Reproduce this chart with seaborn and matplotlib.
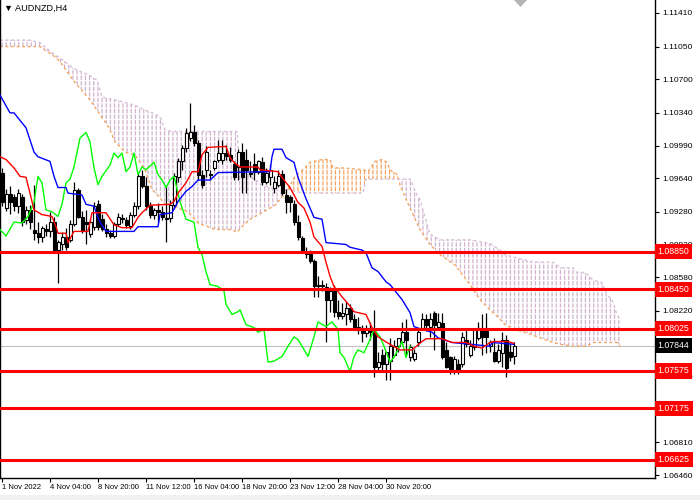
import numpy as np
import matplotlib
matplotlib.use("Agg")
import matplotlib.pyplot as plt
from matplotlib.transforms import blended_transform_factory
from matplotlib.patches import Rectangle, Polygon
import seaborn as sns

# AUDNZD H4 candles, one value per bar
bar_open = [
    1.0970, 1.0932, 1.0947, 1.0944, 1.0934, 1.0944, 1.0919, 1.0930, 1.0908, 1.0905,
    1.0901, 1.0910, 1.0907, 1.0917, 1.0887, 1.0894, 1.0901, 1.0898, 1.0915, 1.0951,
    1.0922, 1.0917, 1.0904, 1.0912, 1.0936, 1.0920, 1.0910, 1.0905, 1.0902, 1.0915,
    1.0921, 1.0919, 1.0913, 1.0925, 1.0934, 1.0966, 1.0956, 1.0934, 1.0925, 1.0930,
    1.0928, 1.0921, 1.0921, 1.0935, 1.0965, 1.0982, 1.0996, 1.1007, 1.1013, 1.1002,
    1.0967, 1.0973, 1.0969, 1.0975, 1.0984, 1.0984, 1.0991, 1.0989, 1.0979, 1.0976,
    1.0992, 1.0984, 1.0970, 1.0979, 1.0971, 1.0981, 1.0960, 1.0965, 1.0954, 1.0957,
    1.0968, 1.0946, 1.0944, 1.0936, 1.0917, 1.0900, 1.0885, 1.0883, 1.0875, 1.0848,
    1.0850, 1.0847, 1.0834, 1.0843, 1.0821, 1.0816, 1.0818, 1.0825, 1.0813, 1.0805,
    1.0804, 1.0798, 1.0804, 1.0799, 1.0762, 1.0775, 1.0765, 1.0768, 1.0775, 1.0784,
    1.0788, 1.0799, 1.0772, 1.0770, 1.0788, 1.0804, 1.0813, 1.0805, 1.0820, 1.0805,
    1.0809, 1.0780, 1.0772, 1.0759, 1.0765, 1.0765, 1.0791, 1.0775, 1.0783, 1.0793,
    1.0802, 1.0804, 1.0784, 1.0778, 1.0768, 1.0777, 1.0791, 1.0778, 1.0773,
]
bar_high = [
    1.0975, 1.0952, 1.0956, 1.0947, 1.0952, 1.0947, 1.0934, 1.0935, 1.0957, 1.0917,
    1.0913, 1.0915, 1.0928, 1.0922, 1.0898, 1.0906, 1.0911, 1.0919, 1.0960, 1.0953,
    1.0929, 1.0930, 1.0920, 1.0939, 1.0941, 1.0926, 1.0915, 1.0909, 1.0917, 1.0927,
    1.0926, 1.0922, 1.0928, 1.0939, 1.0970, 1.0973, 1.0965, 1.0939, 1.0932, 1.0937,
    1.0934, 1.0957, 1.0941, 1.0970, 1.0986, 1.1000, 1.1018, 1.1045, 1.1021, 1.1005,
    1.0973, 1.0998, 1.0973, 1.0984, 1.1005, 1.1005, 1.1000, 1.0997, 1.0982, 1.0995,
    1.1002, 1.0995, 1.0982, 1.0991, 1.0984, 1.0987, 1.0975, 1.0979, 1.0966, 1.0973,
    1.0973, 1.0952, 1.0946, 1.0941, 1.0925, 1.0902, 1.0890, 1.0887, 1.0877, 1.0859,
    1.0855, 1.0852, 1.0847, 1.0850, 1.0834, 1.0830, 1.0832, 1.0829, 1.0818, 1.0815,
    1.0807, 1.0807, 1.0810, 1.0823, 1.0778, 1.0781, 1.0778, 1.0793, 1.0791, 1.0793,
    1.0810, 1.0813, 1.0786, 1.0781, 1.0804, 1.0820, 1.0818, 1.0820, 1.0822, 1.0820,
    1.0820, 1.0789, 1.0773, 1.0773, 1.0770, 1.0799, 1.0802, 1.0791, 1.0802, 1.0810,
    1.0818, 1.0820, 1.0791, 1.0793, 1.0786, 1.0799, 1.0796, 1.0787, 1.0789,
]
bar_low = [
    1.0934, 1.0929, 1.0926, 1.0929, 1.0927, 1.0913, 1.0915, 1.0910, 1.0898, 1.0895,
    1.0896, 1.0902, 1.0901, 1.0885, 1.0852, 1.0887, 1.0887, 1.0896, 1.0913, 1.0921,
    1.0905, 1.0893, 1.0901, 1.0909, 1.0909, 1.0907, 1.0901, 1.0900, 1.0900, 1.0913,
    1.0916, 1.0911, 1.0910, 1.0922, 1.0931, 1.0954, 1.0930, 1.0921, 1.0920, 1.0917,
    1.0919, 1.0896, 1.0917, 1.0931, 1.0960, 1.0973, 1.0992, 1.1004, 1.0999, 1.0962,
    1.0954, 1.0965, 1.0962, 1.0973, 1.0981, 1.0979, 1.0984, 1.0981, 1.0962, 1.0962,
    1.0948, 1.0948, 1.0965, 1.0962, 1.0968, 1.0957, 1.0958, 1.0957, 1.0948, 1.0955,
    1.0946, 1.0927, 1.0928, 1.0914, 1.0898, 1.0884, 1.0879, 1.0873, 1.0837, 1.0837,
    1.0843, 1.0788, 1.0821, 1.0815, 1.0813, 1.0813, 1.0807, 1.0810, 1.0802, 1.0797,
    1.0788, 1.0794, 1.0791, 1.0751, 1.0757, 1.0756, 1.0748, 1.0748, 1.0773, 1.0778,
    1.0786, 1.0775, 1.0768, 1.0768, 1.0784, 1.0802, 1.0800, 1.0794, 1.0780, 1.0802,
    1.0770, 1.0761, 1.0754, 1.0754, 1.0754, 1.0762, 1.0783, 1.0772, 1.0780, 1.0791,
    1.0775, 1.0777, 1.0778, 1.0767, 1.0766, 1.0762, 1.0751, 1.0768, 1.0765,
]
bar_close = [
    1.0938, 1.0947, 1.0938, 1.0934, 1.0948, 1.0917, 1.0930, 1.0917, 1.0905, 1.0901,
    1.0911, 1.0907, 1.0917, 1.0887, 1.0896, 1.0901, 1.0890, 1.0915, 1.0951, 1.0922,
    1.0907, 1.0915, 1.0917, 1.0934, 1.0912, 1.0910, 1.0905, 1.0902, 1.0915, 1.0922,
    1.0920, 1.0914, 1.0925, 1.0934, 1.0966, 1.0956, 1.0934, 1.0925, 1.0930, 1.0928,
    1.0922, 1.0920, 1.0935, 1.0966, 1.0982, 1.0996, 1.1012, 1.1013, 1.1002, 1.0967,
    1.0957, 1.0992, 1.0967, 1.0982, 1.0991, 1.0991, 1.0988, 1.0984, 1.0965, 1.0992,
    1.0965, 1.0973, 1.0968, 1.0971, 1.0982, 1.0960, 1.0970, 1.0973, 1.0960, 1.0966,
    1.0948, 1.0938, 1.0939, 1.0917, 1.0901, 1.0885, 1.0883, 1.0875, 1.0848, 1.0850,
    1.0848, 1.0834, 1.0843, 1.0821, 1.0816, 1.0820, 1.0825, 1.0813, 1.0805, 1.0802,
    1.0798, 1.0802, 1.0799, 1.0762, 1.0767, 1.0765, 1.0778, 1.0784, 1.0784, 1.0793,
    1.0799, 1.0791, 1.0783, 1.0777, 1.0799, 1.0813, 1.0807, 1.0813, 1.0807, 1.0810,
    1.0772, 1.0762, 1.0759, 1.0770, 1.0757, 1.0794, 1.0786, 1.0784, 1.0802, 1.0804,
    1.0794, 1.0794, 1.0789, 1.0768, 1.0780, 1.0791, 1.0761, 1.0772, 1.07844,
]

# Ichimoku lines (bar position, price)
tenkan_idx = [-0.5, 1, 3, 4.5, 6, 7, 8, 10, 12.5, 13.5, 14, 16, 16.5, 18, 21.5, 22.5, 26, 28, 30, 32.5,
              34, 35, 37, 42, 43, 44, 46, 47.5, 49, 50, 51.5, 56, 57, 58, 59.5, 64, 64.5, 69, 70.5, 72,
              74, 75.5, 77, 78, 80, 81, 82, 83, 85, 87, 88, 91, 92.5, 94, 97, 99.5, 102.5, 105, 106, 110,
              112.5, 116, 118, 120, 122, 123, 126.5, 128]
tenkan_val = [1.0987, 1.0984, 1.0975, 1.0966, 1.0965, 1.0948, 1.0930, 1.0925, 1.0923, 1.0912,
              1.0905, 1.0905, 1.0895, 1.0907, 1.0907, 1.0927, 1.0927, 1.0914, 1.0911, 1.0911,
              1.0922, 1.0927, 1.0935, 1.0936, 1.0939, 1.0948, 1.0959, 1.0971, 1.0971, 1.0989,
              1.0997, 1.0998, 1.0986, 1.0981, 1.0976, 1.0976, 1.0973, 1.0971, 1.0962, 1.0954,
              1.0938, 1.0932, 1.0917, 1.0901, 1.0891, 1.0874, 1.0859, 1.0848, 1.0837, 1.0827,
              1.0821, 1.0818, 1.0804, 1.0794, 1.0786, 1.0780, 1.0780, 1.0789, 1.0792, 1.0792,
              1.0788, 1.0788, 1.0784, 1.0782, 1.0788, 1.0789, 1.0789, 1.0787]

kijun_idx = [-0.5, 2, 3, 6, 8, 9, 12, 13, 14, 16, 16.5, 20, 21, 23, 24, 24.5, 26, 33, 34, 39,
             39.5, 42.5, 44, 46, 47.5, 49, 52, 54, 67, 67.5, 68, 70, 71, 73, 74, 76, 78, 80, 81, 86,
             87, 90, 91, 92.5, 94, 96, 97, 100, 102, 103, 105, 107.5, 109, 112.5, 122, 122.5, 128]
kijun_val = [1.1053, 1.1034, 1.1034, 1.1018, 1.0992, 1.0987, 1.0982, 1.0966, 1.0954, 1.0954,
             1.0948, 1.0946, 1.0936, 1.0934, 1.0922, 1.0917, 1.0907, 1.0907, 1.0912, 1.0912,
             1.0925, 1.0927, 1.0939, 1.0950, 1.0955, 1.0962, 1.0962, 1.0970, 1.0971, 1.0987,
             1.0995, 1.0995, 1.0986, 1.0981, 1.0965, 1.0942, 1.0922, 1.0920, 1.0895, 1.0893,
             1.0890, 1.0887, 1.0884, 1.0868, 1.0864, 1.0853, 1.0850, 1.0834, 1.0820, 1.0805,
             1.0802, 1.0799, 1.0793, 1.0788, 1.0784, 1.0788, 1.0786]

chikou_idx = [-0.5, 1, 3, 5, 6.5, 8, 9, 10, 11, 12.5, 14, 15, 16, 17, 18, 19.5, 21, 22, 23, 24,
              25, 27, 28, 29, 30, 31, 32, 33, 34, 35, 36, 38, 39, 40, 41, 42, 43, 44.5, 46, 48,
              49, 50, 51, 52, 54, 55.5, 56, 57.5, 59, 59.5, 61, 63, 64, 65.5, 66.5, 68, 70, 71.5, 73, 74,
              75, 76.5, 78, 79, 81, 82.5, 84, 84.5, 85.5, 87, 88, 89, 90.5, 92, 93, 94.5, 95.5, 97, 98, 100,
              101, 102]
chikou_val = [1.0909, 1.0902, 1.0917, 1.0916, 1.0923, 1.0938, 1.0966, 1.0959, 1.0930, 1.0928,
              1.0923, 1.0936, 1.0959, 1.0963, 1.0976, 1.1007, 1.1013, 1.1003, 1.0975, 1.0957,
              1.0966, 1.0978, 1.0991, 1.0986, 1.0991, 1.0971, 1.0976, 1.0991, 1.0968, 1.0976,
              1.0973, 1.0981, 1.0968, 1.0962, 1.0954, 1.0962, 1.0966, 1.0939, 1.0920, 1.0917,
              1.0890, 1.0882, 1.0864, 1.0850, 1.0848, 1.0843, 1.0829, 1.0818, 1.0821, 1.0823,
              1.0807, 1.0804, 1.0799, 1.0802, 1.0767, 1.0768, 1.0773, 1.0784, 1.0794, 1.0791,
              1.0784, 1.0773, 1.0794, 1.0810, 1.0805, 1.0810, 1.0802, 1.0777, 1.0772, 1.0757,
              1.0773, 1.0780, 1.0777, 1.0791, 1.0802, 1.0794, 1.0784, 1.0767, 1.0772, 1.0789,
              1.0772, 1.0784]

cloud_idx = [-0.5, 7, 9.5, 13.25, 14.5, 17.75, 22, 23.75, 25, 26.75,
             28.25, 30.75, 33.25, 35.75, 37.5, 39.5, 40.75, 42.5, 44, 46.5,
             49, 53.25, 57.5, 58.75, 59.5, 62, 65, 68.25, 71.25, 73.25,
             75.25, 77, 80, 82, 82.75, 85.25, 90.25, 91, 91.5, 93.25,
             95, 96.25, 97, 98.75, 99.5, 100.75, 102, 103.75, 104.5, 107,
             109.5, 113.25, 117, 119.5, 122, 124.5, 125.75, 128.25, 132, 134.5,
             137.75, 139.5, 142.75, 143.75, 145.75, 147, 147.75, 150, 151.25, 152.5,
             153.75, 154.5]
span_a = [1.1105, 1.1105, 1.1105, 1.1094, 1.1089, 1.1069, 1.1048, 1.1037, 1.1029, 1.1018,
          1.1003, 1.0992, 1.0989, 1.0973, 1.0952, 1.0943, 1.0936, 1.0934, 1.0932, 1.0928,
          1.0916, 1.0909, 1.0909, 1.0906, 1.0910, 1.0920, 1.0927, 1.0935, 1.0950, 1.0966,
          1.0973, 1.0981, 1.0984, 1.0984, 1.0975, 1.0975, 1.0973, 1.0972, 1.0971, 1.0982,
          1.0984, 1.0981, 1.0973, 1.0968, 1.0957, 1.0944, 1.0932, 1.0916, 1.0909, 1.0893,
          1.0882, 1.0871, 1.0850, 1.0834, 1.0823, 1.0813, 1.0807, 1.0802, 1.0797, 1.0793,
          1.0788, 1.0786, 1.0784, 1.0784, 1.0784, 1.0786, 1.0788, 1.0788, 1.0788, 1.0788,
          1.0788, 1.0784]
span_b = [1.1112, 1.1112, 1.1109, 1.1096, 1.1093, 1.1082, 1.1074, 1.1069, 1.1051, 1.1049,
          1.1048, 1.1045, 1.1042, 1.1037, 1.1034, 1.1030, 1.1016, 1.1014, 1.1014, 1.1014,
          1.1014, 1.1014, 1.1014, 1.1014, 1.0970, 1.0967, 1.0957, 1.0952, 1.0952, 1.0950,
          1.0948, 1.0948, 1.0948, 1.0948, 1.0948, 1.0948, 1.0948, 1.0963, 1.0963, 1.0963,
          1.0963, 1.0963, 1.0963, 1.0963, 1.0963, 1.0963, 1.0963, 1.0946, 1.0941, 1.0904,
          1.0898, 1.0898, 1.0898, 1.0896, 1.0894, 1.0887, 1.0882, 1.0879, 1.0875, 1.0874,
          1.0874, 1.0868, 1.0868, 1.0863, 1.0863, 1.0858, 1.0855, 1.0852, 1.0839, 1.0834,
          1.0818, 1.0813]

levels = [1.08850, 1.08450, 1.08025, 1.07575, 1.07175, 1.06625]
last_price = 1.07844

y_ticks = [1.11410, 1.11050, 1.10700, 1.10340, 1.09990, 1.09640, 1.09280,
           1.08930, 1.08580, 1.08220, 1.07520, 1.06810, 1.06460]
x_tick_pos = [0, 12, 24, 36, 48, 60, 72, 84, 96]
x_tick_labels = ["1 Nov 2022", "4 Nov 04:00", "8 Nov 20:00", "11 Nov 12:00", "16 Nov 04:00",
                 "18 Nov 20:00", "23 Nov 12:00", "28 Nov 04:00", "30 Nov 20:00"]

sns.set_theme(style="white")
plt.rcParams["font.family"] = ["Liberation Sans", "DejaVu Sans"]
plt.rcParams["hatch.linewidth"] = 0.9
fs_y = 6.0
fs_x = 5.5

fig = plt.figure(figsize=(7, 5), dpi=100)
fig.patches.append(Rectangle((0, 0), 1, 5 / 500, transform=fig.transFigure,
                             facecolor="#f0f0f0", edgecolor="none"))
ax = fig.add_axes([0.0, 22 / 500, 655 / 700, 478 / 500])
ax.set_facecolor("white")

# kumo: dotted vertical hatching between the two spans
sa = np.array(span_a)
sb = np.array(span_b)
ax.fill_between(cloud_idx, sa, sb, where=sa >= sb, interpolate=True, facecolor="none",
                edgecolor="#f4a460", hatch="||||", linewidth=0, zorder=1)
ax.fill_between(cloud_idx, sa, sb, where=sa < sb, interpolate=True, facecolor="none",
                edgecolor="#cfb2cf", hatch="||||", linewidth=0, zorder=1)
# sparse white cross-hatch breaks the vertical strokes into dashes
ax.fill_between(cloud_idx, sa, sb, facecolor="none", edgecolor="white",
                hatch="---", linewidth=0, zorder=1.1)
sns.lineplot(x=cloud_idx, y=span_a, ax=ax, color="#f4a460", linewidth=1.0,
             linestyle=(0, (2, 2)), estimator=None, sort=False, zorder=2)
sns.lineplot(x=cloud_idx, y=span_b, ax=ax, color="#d8bfd8", linewidth=1.0,
             linestyle=(0, (2, 2)), estimator=None, sort=False, zorder=2)

ax.axhline(last_price, color="#c0c0c0", linewidth=0.8, zorder=1.5)

# candles
idx = np.arange(len(bar_close))
o = np.array(bar_open)
c = np.array(bar_close)
up = c >= o
ax.vlines(idx, bar_low, bar_high, color="black", linewidth=0.9, zorder=3)
ax.bar(idx[up], c[up] - o[up], bottom=o[up], width=0.75, color="white",
       edgecolor="black", linewidth=0.8, zorder=3.5)
ax.bar(idx[~up], c[~up] - o[~up], bottom=o[~up], width=0.75, color="black",
       edgecolor="black", linewidth=0.8, zorder=3.5)

sns.lineplot(x=chikou_idx, y=chikou_val, ax=ax, color="#00ff00", linewidth=1.0,
             estimator=None, sort=False, zorder=4)
sns.lineplot(x=kijun_idx, y=kijun_val, ax=ax, color="#0000ff", linewidth=1.0,
             estimator=None, sort=False, zorder=4)
sns.lineplot(x=tenkan_idx, y=tenkan_val, ax=ax, color="#ff0000", linewidth=1.0,
             estimator=None, sort=False, zorder=4)

for lvl in levels:
    ax.axhline(lvl, color="#ff0000", linewidth=2.2, zorder=5)

ax.set_xlim(-0.5, 163.25)
ax.set_ylim(1.06428, 1.11549)
ax.set_xlabel("")
ax.set_ylabel("")

ax.yaxis.tick_right()
ax.set_yticks(y_ticks)
ax.set_yticklabels([f"{v:.5f}" for v in y_ticks])
ax.set_xticks(x_tick_pos)
ax.set_xticklabels(x_tick_labels)
for lbl in ax.get_xticklabels():
    lbl.set_ha("left")
ax.tick_params(axis="y", which="both", direction="out", length=3, width=0.8,
               colors="black", labelsize=fs_y, pad=2, right=True, left=False)
ax.tick_params(axis="x", which="both", direction="out", length=3, width=0.8,
               colors="black", labelsize=fs_x, pad=1.5, bottom=True)
for side in ["left", "right", "bottom"]:
    ax.spines[side].set_color("black")
    ax.spines[side].set_linewidth(1.0)
ax.spines["top"].set_visible(False)

# price tags on the right scale
trans = blended_transform_factory(ax.transAxes, ax.transData)
for lvl in levels:
    ax.text(1.004, lvl, f"{lvl:.5f}", transform=trans, ha="left", va="center",
            color="white", fontsize=6.3, clip_on=False, zorder=10,
            bbox=dict(boxstyle="square,pad=0.35", facecolor="#ff0000", edgecolor="none"))
ax.text(1.004, last_price, f"{last_price:.5f}", transform=trans, ha="left", va="center",
        color="white", fontsize=6.3, clip_on=False, zorder=10,
        bbox=dict(boxstyle="square,pad=0.35", facecolor="black", edgecolor="none"))

ax.text(0.006, 1 - 8 / 478, "\u25bc AUDNZD,H4", transform=ax.transAxes, ha="left",
        va="center", fontsize=6.6, color="black", zorder=10)

# grey handle at the top edge of the chart window
fig.patches.append(Polygon([(514 / 700, 1.0), (527 / 700, 1.0), (520.5 / 700, 1 - 7 / 500)],
                           closed=True, transform=fig.transFigure,
                           facecolor="#b4b4b4", edgecolor="none"))

fig.savefig("out.png", dpi=100)
